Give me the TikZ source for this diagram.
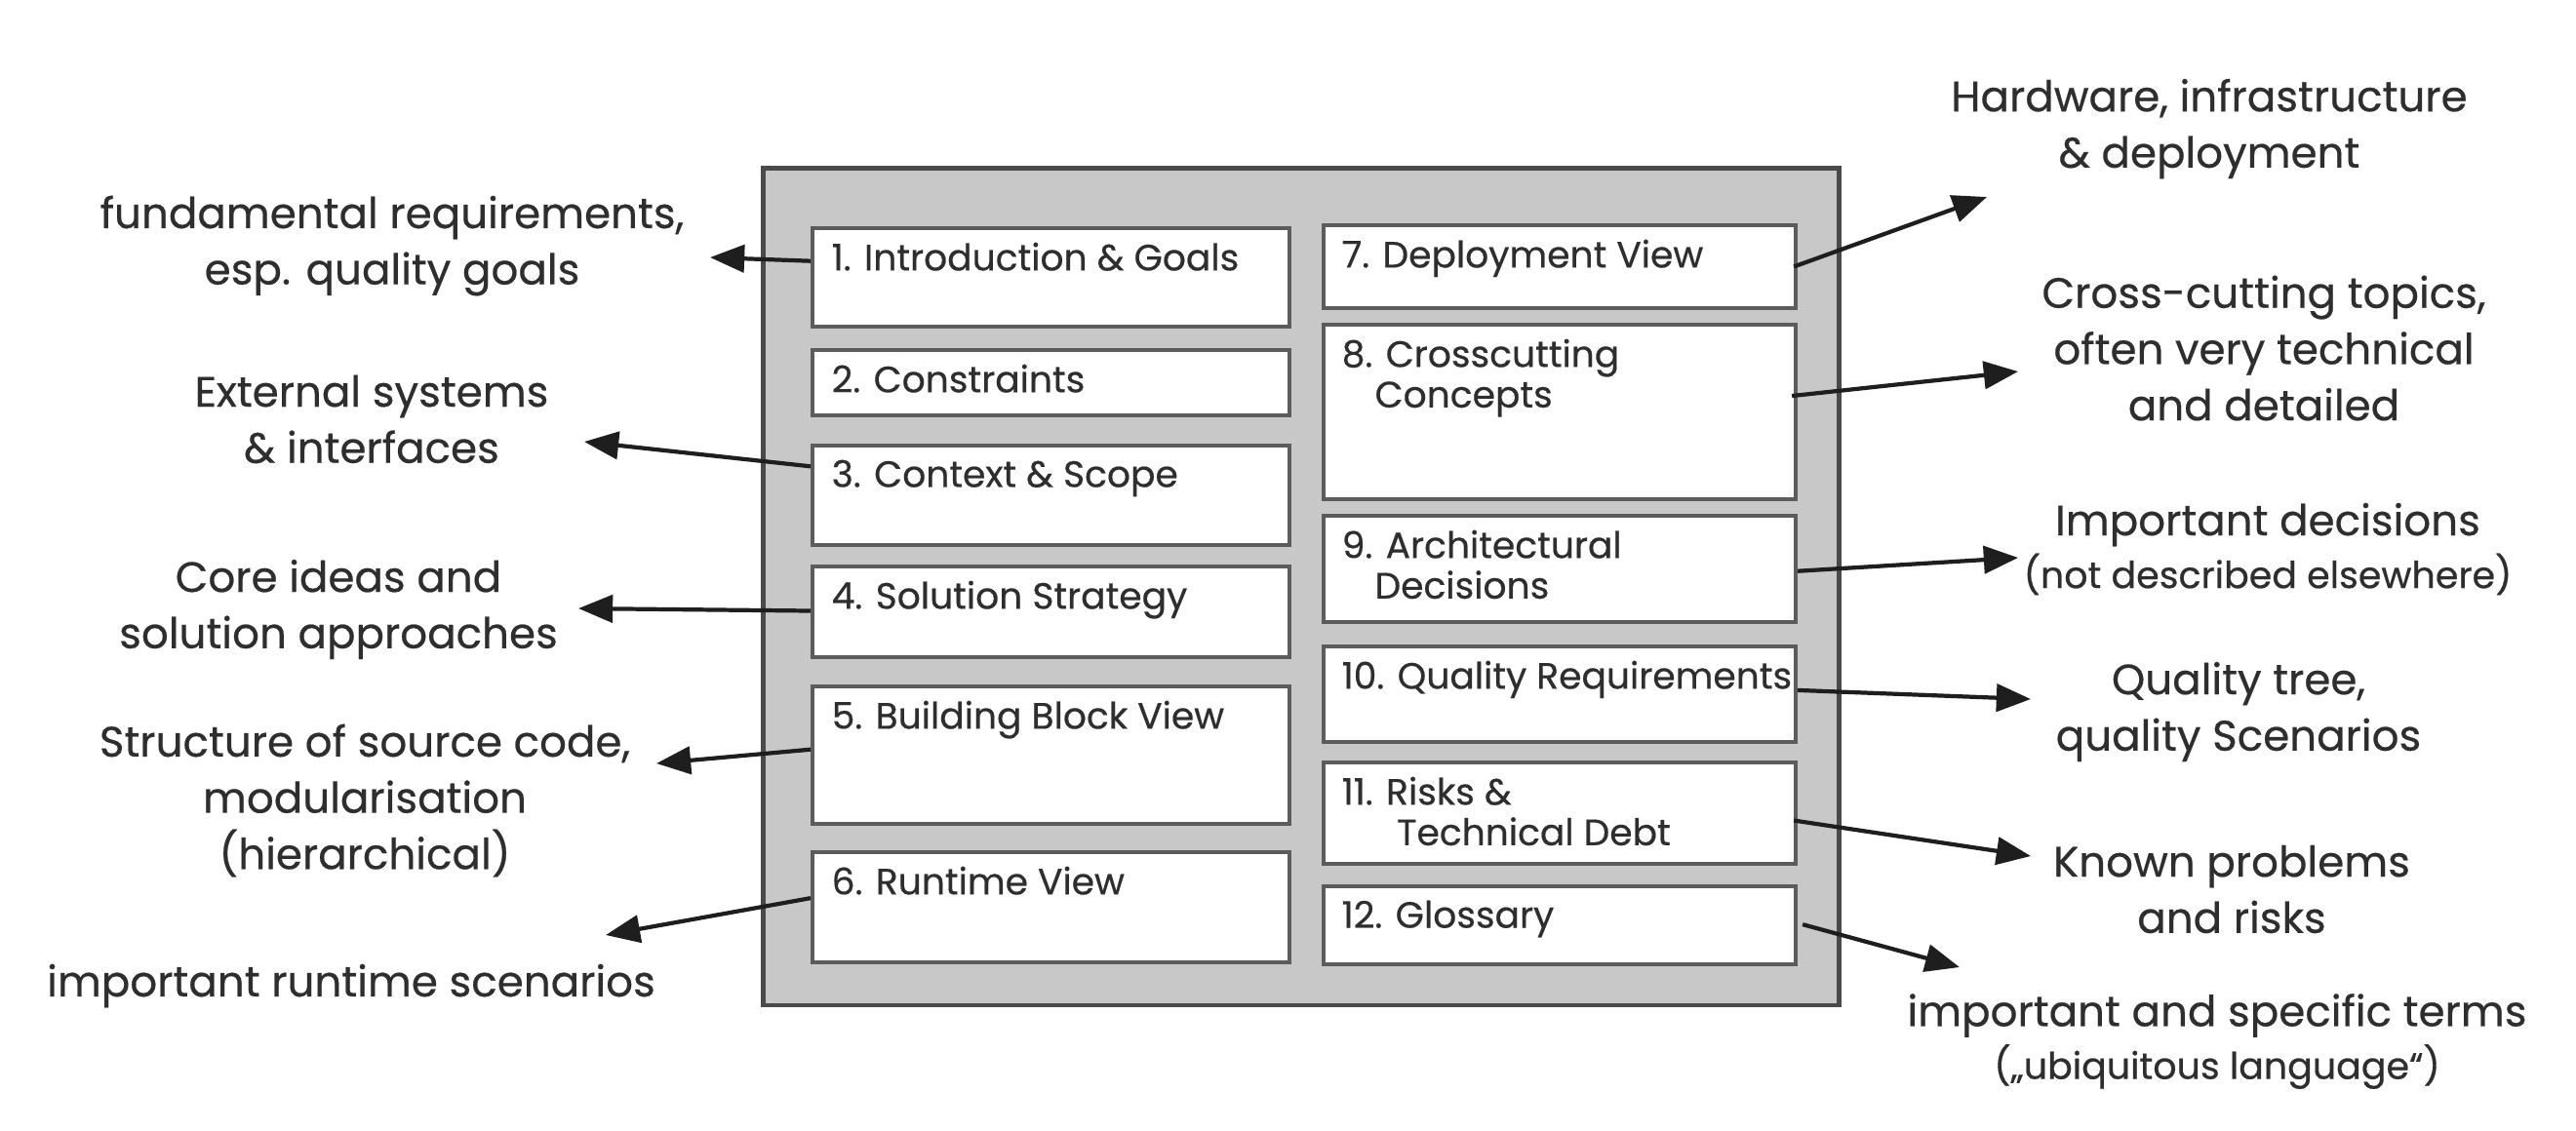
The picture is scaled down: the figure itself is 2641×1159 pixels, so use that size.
\documentclass[tikz,border=0pt]{standalone}
\usepackage{fontspec}
\setmainfont{Poppins}[FakeBold=0.45]
\usetikzlibrary{arrows.meta,calc}
\definecolor{outerfill}{HTML}{C8C8C8}
\definecolor{outerline}{HTML}{4A4A4A}
\definecolor{boxline}{HTML}{5C5C5C}
\definecolor{txt}{HTML}{2E2E2E}
\definecolor{arr}{HTML}{1E1E1E}
\tikzset{
  outerbox/.style={draw=outerline,fill=outerfill,line width=1.4pt,anchor=north west,inner sep=0pt},
  secbox/.style={draw=boxline,fill=white,line width=1.1pt,anchor=north west,inner sep=0pt,minimum width=#1},
  secbox/.default=4.89cm,
  seclabel/.style={anchor=north west,inner sep=0pt,align=left,text=txt,
    font=\fontsize{10.7}{11.8}\selectfont},
  note/.style={align=center,text=txt,inner sep=0pt,font=\fontsize{12.4}{16.4}\selectfont},
  conn/.style={draw=arr,line width=1.2pt,-{Triangle[length=10pt,width=8pt]}}
}
\newcommand{\smallnote}{\fontsize{10.8}{11}\selectfont}
\begin{document}
\begin{tikzpicture}[x=0.01cm,y=-0.01cm]
\useasboundingbox[fill=white] (0,0) rectangle (2641,1159);
% outer frame
\node[outerbox,minimum width=11.02cm,minimum height=8.58cm] (frame) at (780,170) {};
% left column
\node[secbox,minimum height=1.01cm] (b1) at (831,232) {};
\node[secbox,minimum height=0.67cm] (b2) at (831,357) {};
\node[secbox,minimum height=1.02cm] (b3) at (831,455) {};
\node[secbox,minimum height=0.93cm] (b4) at (831,579) {};
\node[secbox,minimum height=1.41cm] (b5) at (831,702) {};
\node[secbox,minimum height=1.13cm] (b6) at (831,872) {};
% right column
\node[secbox=4.84cm,minimum height=0.85cm] (b7) at (1355,229) {};
\node[secbox=4.84cm,minimum height=1.79cm] (b8) at (1355,331) {};
\node[secbox=4.84cm,minimum height=1.09cm] (b9) at (1355,527) {};
\node[secbox=4.84cm,minimum height=0.98cm] (b10) at (1355,661) {};
\node[secbox=4.84cm,minimum height=1.04cm] (b11) at (1355,780) {};
\node[secbox=4.84cm,minimum height=0.80cm] (b12) at (1355,907) {};
% section titles
\node[seclabel] (s1) at (852,248) {1. Introduction \& Goals};
\node[seclabel] (s2) at (852,373) {2. Constraints};
\node[seclabel] (s3) at (852,471) {3. Context \& Scope};
\node[seclabel] (s4) at (852,595) {4. Solution Strategy};
\node[seclabel] (s5) at (852,718) {5. Building Block View};
\node[seclabel] (s6) at (852,888) {6. Runtime View};
\node[seclabel] (s7) at (1375,245) {7. Deployment View};
\node[seclabel] (s8) at (1375,347) {8. Crosscutting\\\hspace*{0.9em}Concepts};
\node[seclabel] (s9) at (1375,543) {9. Architectural\\\hspace*{0.9em}Decisions};
\node[seclabel] (s10) at (1375,677) {10. Quality Requirements};
\node[seclabel] (s11) at (1375,796) {11. Risks \&\\\hspace*{1.5em}Technical Debt};
\node[seclabel] (s12) at (1375,923) {12. Glossary};
% explanations left
\node[note] (n1) at (402,252) {fundamental requirements,\\esp. quality goals};
\node[note] (n3) at (381,430) {External systems\\\& interfaces};
\node[note] (n4) at (347,625) {Core ideas and\\solution approaches};
\node[note] (n5) at (374,821) {Structure of source code,\\modularisation\\(hierarchical)};
\node[note] (n6) at (360,1011) {important runtime scenarios};
% explanations right
\node[note] (n7) at (2265,132) {Hardware, infrastructure\\\& deployment};
\node[note] (n8) at (2321,357) {Cross-cutting topics,\\often very technical\\and detailed};
\node[note] (n9) at (2325,563) {Important decisions\\[-1pt]{\smallnote(not described elsewhere)}};
\node[note] (n10) at (2295,730) {Quality tree,\\quality Scenarios};
\node[note] (n11) at (2288,912) {Known problems\\and risks};
\node[note] (n12) at (2273,1068) {important and specific terms\\[-1pt]{\smallnote(„ubiquitous language“)}};
% arrow tips
\coordinate (t1) at (728,264);
\coordinate (t3) at (599,453);
\coordinate (t4) at (593,624);
\coordinate (t5) at (673,783);
\coordinate (t6) at (621,959);
\coordinate (t7) at (2037,202);
\coordinate (t8) at (2069,381);
\coordinate (t9) at (2069,572);
\coordinate (t10) at (2082,717);
\coordinate (t11) at (2082,878);
\coordinate (t12) at (2009,992);
% connectors
\draw[conn] ($(b1.north west)!0.34!(b1.south west)$) -- (t1);
\draw[conn] ($(b3.north west)!0.22!(b3.south west)$) -- (t3);
\draw[conn] ($(b4.north west)!0.49!(b4.south west)$) -- (t4);
\draw[conn] ($(b5.north west)!0.46!(b5.south west)$) -- (t5);
\draw[conn] ($(b6.north west)!0.42!(b6.south west)$) -- (t6);
\draw[conn] ($(b7.north east)!0.5!(b7.south east)+(-4,0)$) -- (t7);
\draw[conn] ($(b8.north east)!0.41!(b8.south east)+(-6,0)$) -- (t8);
\draw[conn] ($(b9.north east)!0.52!(b9.south east)$) -- (t9);
\draw[conn] ($(b10.north east)!0.46!(b10.south east)$) -- (t10);
\draw[conn] ($(b11.north east)!0.57!(b11.south east)+(-4,0)$) -- (t11);
\draw[conn] ($(b12.north east)!0.49!(b12.south east)+(5,0)$) -- (t12);
\end{tikzpicture}
\end{document}
